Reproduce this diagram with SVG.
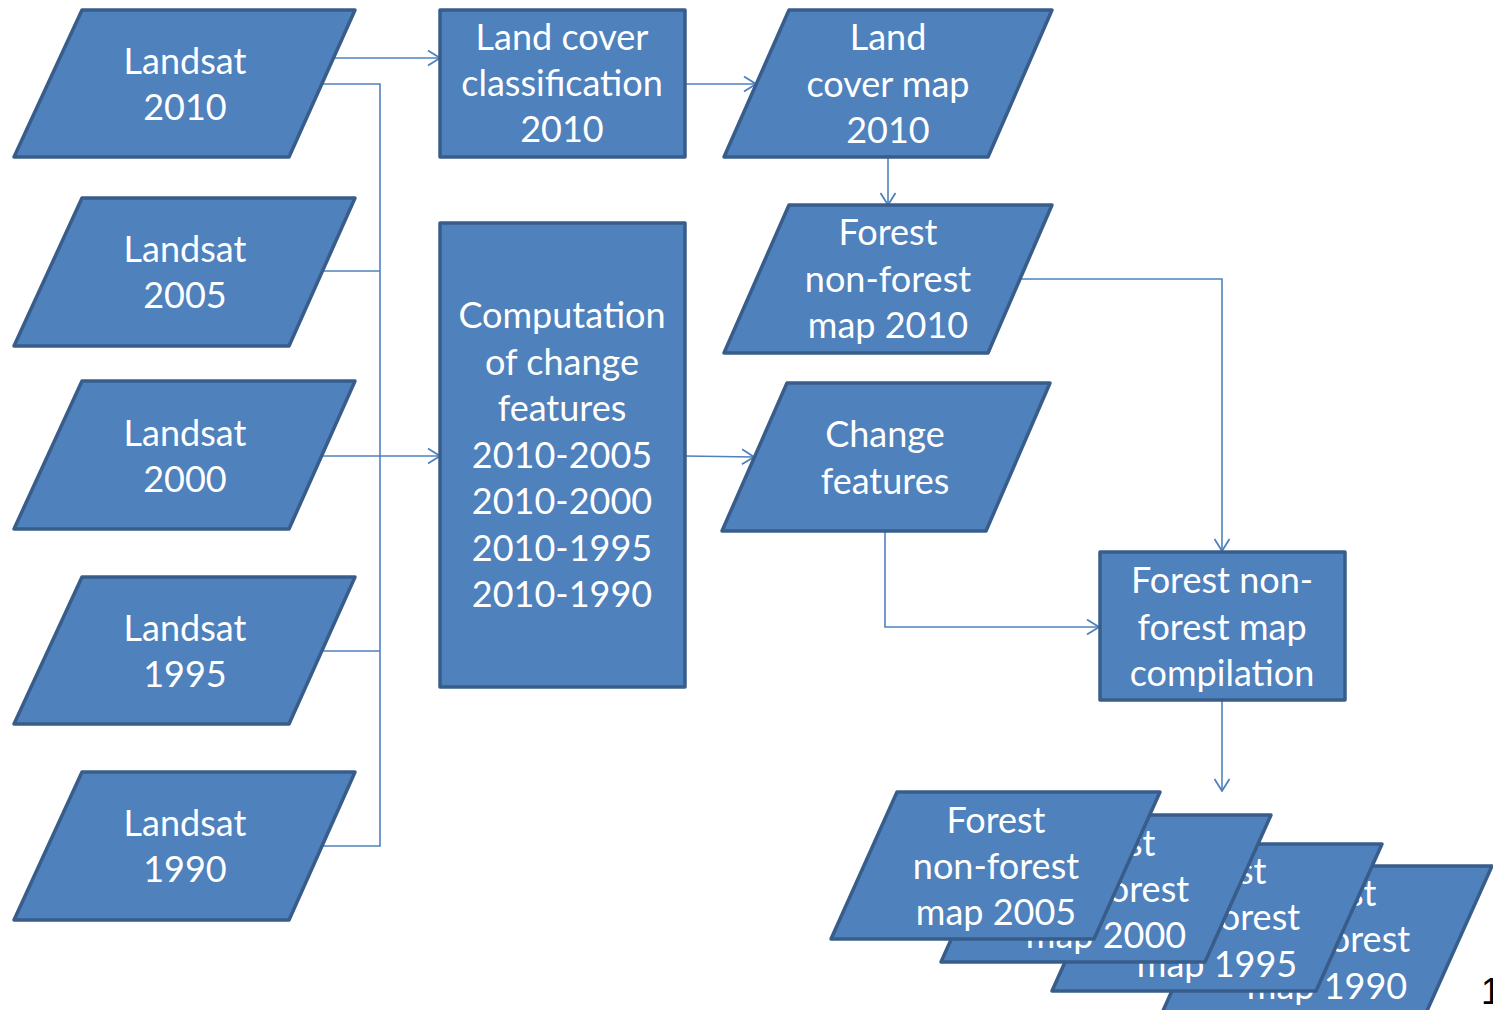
<svg xmlns="http://www.w3.org/2000/svg" width="1493" height="1010" viewBox="0 0 1493 1010">
<defs>
<marker id="arr" viewBox="0 0 14 18" refX="13" refY="9" markerWidth="14" markerHeight="18" markerUnits="userSpaceOnUse" orient="auto">
<path d="M1,1.5 L13,9 L1,16.5" fill="none" stroke="#4F81BD" stroke-width="1.8"/>
</marker>
</defs>
<style>
.n{fill:#4F81BD;stroke:#385D8A;stroke-width:3.5;stroke-linejoin:round}
.t{font-family:Lato,"Open Sans",sans-serif;font-size:36px;fill:#FFFFFF;text-anchor:middle}
.c{fill:none;stroke:#4F81BD;stroke-width:1.6}
</style>
<rect width="1493" height="1010" fill="#FFFFFF"/>
<g id="connectors">
<path class="c" d="M332,58 H440" marker-end="url(#arr)"/>
<path class="c" d="M322,84 H380 V846 H322"/>
<path class="c" d="M322,271 H380"/>
<path class="c" d="M322,651 H380"/>
<path class="c" d="M322,456 H440" marker-end="url(#arr)"/>
<path class="c" d="M685,84 H756" marker-end="url(#arr)"/>
<path class="c" d="M888,157 V205" marker-end="url(#arr)"/>
<path class="c" d="M1021,279 H1222 V551" marker-end="url(#arr)"/>
<path class="c" d="M685,456 L754,457" marker-end="url(#arr)"/>
<path class="c" d="M885,531 V627 H1099" marker-end="url(#arr)"/>
<path class="c" d="M1222,700 V791" marker-end="url(#arr)"/>
</g>
<g id="landsat2010"><polygon class="n" points="82,10 355,10 289,157 14,157"/><text class="t" x="185" y="74">Landsat</text><text class="t" x="185" y="120">2010</text></g>
<g id="landsat2005"><polygon class="n" points="82,198 355,198 289,346 14,346"/><text class="t" x="185" y="262">Landsat</text><text class="t" x="185" y="308">2005</text></g>
<g id="landsat2000"><polygon class="n" points="82,381 355,381 289,529 14,529"/><text class="t" x="185" y="446">Landsat</text><text class="t" x="185" y="492">2000</text></g>
<g id="landsat1995"><polygon class="n" points="82,577 355,577 289,724 14,724"/><text class="t" x="185" y="641">Landsat</text><text class="t" x="185" y="687">1995</text></g>
<g id="landsat1990"><polygon class="n" points="82,772 355,772 289,920 14,920"/><text class="t" x="185" y="836">Landsat</text><text class="t" x="185" y="882">1990</text></g>
<g id="classification"><rect class="n" x="440" y="10" width="245" height="147"/><text class="t" x="562" y="50">Land cover</text><text class="t" x="562" y="96">classification</text><text class="t" x="562" y="142">2010</text></g>
<g id="computation"><rect class="n" x="440" y="223" width="245" height="464"/><text class="t" x="562" y="328">Computation</text><text class="t" x="562" y="375">of change</text><text class="t" x="562" y="421">features</text><text class="t" x="562" y="468">2010-2005</text><text class="t" x="562" y="514">2010-2000</text><text class="t" x="562" y="561">2010-1995</text><text class="t" x="562" y="607">2010-1990</text></g>
<g id="landcovermap"><polygon class="n" points="789,10 1052,10 988,157 724,157"/><text class="t" x="888" y="50">Land</text><text class="t" x="888" y="97">cover map</text><text class="t" x="888" y="143">2010</text></g>
<g id="fnf2010"><polygon class="n" points="789,205 1052,205 988,353 724,353"/><text class="t" x="888" y="245">Forest</text><text class="t" x="888" y="292">non-forest</text><text class="t" x="888" y="338">map 2010</text></g>
<g id="changefeatures"><polygon class="n" points="787,383 1050,383 986,531 722,531"/><text class="t" x="885" y="447">Change</text><text class="t" x="885" y="494">features</text></g>
<g id="compilation"><rect class="n" x="1100" y="552" width="245" height="148"/><text class="t" x="1222" y="593">Forest non-</text><text class="t" x="1222" y="640">forest map</text><text class="t" x="1222" y="686">compilation</text></g>
<g id="fnf1990"><polygon class="n" points="1228,866 1492,866 1426,1013 1162,1013"/><text class="t" x="1327" y="906">Forest</text><text class="t" x="1327" y="952">non-forest</text><text class="t" x="1327" y="999">map 1990</text></g>
<g id="fnf1995"><polygon class="n" points="1118,844 1382,844 1316,991 1052,991"/><text class="t" x="1217" y="884">Forest</text><text class="t" x="1217" y="930">non-forest</text><text class="t" x="1217" y="977">map 1995</text></g>
<g id="fnf2000"><polygon class="n" points="1007,815 1271,815 1205,962 941,962"/><text class="t" x="1106" y="856">Forest</text><text class="t" x="1106" y="902">non-forest</text><text class="t" x="1106" y="948">map 2000</text></g>
<g id="fnf2005"><polygon class="n" points="897,792 1160,792 1094,939 831,939"/><text class="t" x="996" y="833">Forest</text><text class="t" x="996" y="879">non-forest</text><text class="t" x="996" y="925">map 2005</text></g>
<text x="1481" y="1004" font-family="Liberation Sans, Arial, sans-serif" font-size="36" fill="#000000">1</text>
</svg>
